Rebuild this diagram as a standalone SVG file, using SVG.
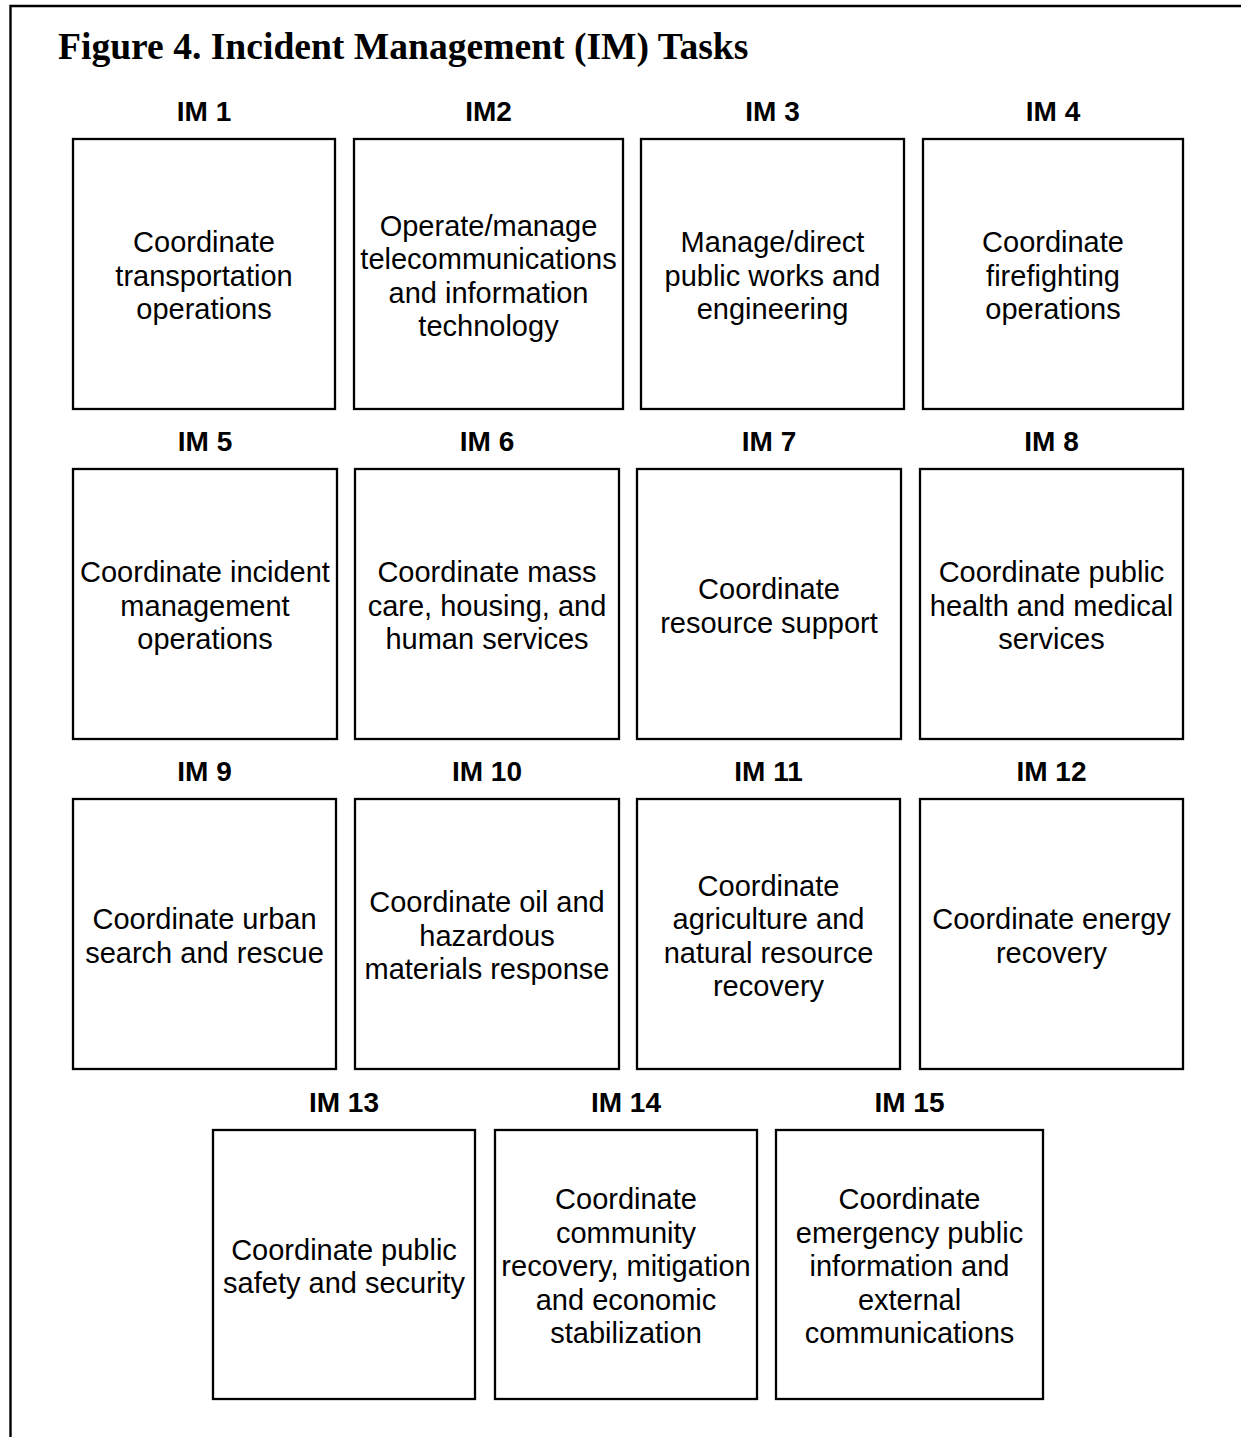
<svg xmlns="http://www.w3.org/2000/svg" width="1241" height="1437" viewBox="0 0 1241 1437">
<style>
.frame{fill:none;stroke:#000;stroke-width:2.4}
.box{fill:#fff;stroke:#000;stroke-width:2.3}
.lbl{font-family:"Liberation Sans",Arial,sans-serif;font-weight:bold;font-size:28px;text-anchor:middle;fill:#000}
.txt{font-family:"Liberation Sans",Arial,sans-serif;font-size:29px;text-anchor:middle;fill:#000}
.title{font-family:"Liberation Serif","Times New Roman",serif;font-weight:bold;font-size:37.6px;fill:#000}
</style>
<rect width="1241" height="1437" fill="#fff"/>
<path class="frame" d="M10.5,1437 V6 H1241"/>
<text class="title" x="58" y="59">Figure 4. Incident Management (IM) Tasks</text>
<g id="connectors"/>
<g id="im1">
<text class="lbl" x="204" y="121">IM 1</text>
<rect class="box" x="73" y="139" width="262" height="270"/>
<text class="txt"><tspan x="204" y="252">Coordinate</tspan><tspan x="204" y="285.5">transportation</tspan><tspan x="204" y="319">operations</tspan></text>
</g>
<g id="im2">
<text class="lbl" x="488.5" y="121">IM2</text>
<rect class="box" x="354" y="139" width="269" height="270"/>
<text class="txt"><tspan x="488.5" y="235.5">Operate/manage</tspan><tspan x="488.5" y="269">telecommunications</tspan><tspan x="488.5" y="302.5">and information</tspan><tspan x="488.5" y="336">technology</tspan></text>
</g>
<g id="im3">
<text class="lbl" x="772.5" y="121">IM 3</text>
<rect class="box" x="641" y="139" width="263" height="270"/>
<text class="txt"><tspan x="772.5" y="252">Manage/direct</tspan><tspan x="772.5" y="285.5">public works and</tspan><tspan x="772.5" y="319">engineering</tspan></text>
</g>
<g id="im4">
<text class="lbl" x="1053" y="121">IM 4</text>
<rect class="box" x="923" y="139" width="260" height="270"/>
<text class="txt"><tspan x="1053" y="252">Coordinate</tspan><tspan x="1053" y="285.5">firefighting</tspan><tspan x="1053" y="319">operations</tspan></text>
</g>
<g id="im5">
<text class="lbl" x="205" y="451">IM 5</text>
<rect class="box" x="73" y="469" width="264" height="270"/>
<text class="txt"><tspan x="205" y="582">Coordinate incident</tspan><tspan x="205" y="615.5">management</tspan><tspan x="205" y="649">operations</tspan></text>
</g>
<g id="im6">
<text class="lbl" x="487" y="451">IM 6</text>
<rect class="box" x="355" y="469" width="264" height="270"/>
<text class="txt"><tspan x="487" y="582">Coordinate mass</tspan><tspan x="487" y="615.5">care, housing, and</tspan><tspan x="487" y="649">human services</tspan></text>
</g>
<g id="im7">
<text class="lbl" x="769" y="451">IM 7</text>
<rect class="box" x="637" y="469" width="264" height="270"/>
<text class="txt"><tspan x="769" y="599">Coordinate</tspan><tspan x="769" y="632.5">resource support</tspan></text>
</g>
<g id="im8">
<text class="lbl" x="1051.5" y="451">IM 8</text>
<rect class="box" x="920" y="469" width="263" height="270"/>
<text class="txt"><tspan x="1051.5" y="582">Coordinate public</tspan><tspan x="1051.5" y="615.5">health and medical</tspan><tspan x="1051.5" y="649">services</tspan></text>
</g>
<g id="im9">
<text class="lbl" x="204.5" y="781">IM 9</text>
<rect class="box" x="73" y="799" width="263" height="270"/>
<text class="txt"><tspan x="204.5" y="929">Coordinate urban</tspan><tspan x="204.5" y="962.5">search and rescue</tspan></text>
</g>
<g id="im10">
<text class="lbl" x="487" y="781">IM 10</text>
<rect class="box" x="355" y="799" width="264" height="270"/>
<text class="txt"><tspan x="487" y="912">Coordinate oil and</tspan><tspan x="487" y="945.5">hazardous</tspan><tspan x="487" y="979">materials response</tspan></text>
</g>
<g id="im11">
<text class="lbl" x="768.5" y="781">IM 11</text>
<rect class="box" x="637" y="799" width="263" height="270"/>
<text class="txt"><tspan x="768.5" y="895.5">Coordinate</tspan><tspan x="768.5" y="929">agriculture and</tspan><tspan x="768.5" y="962.5">natural resource</tspan><tspan x="768.5" y="996">recovery</tspan></text>
</g>
<g id="im12">
<text class="lbl" x="1051.5" y="781">IM 12</text>
<rect class="box" x="920" y="799" width="263" height="270"/>
<text class="txt"><tspan x="1051.5" y="929">Coordinate energy</tspan><tspan x="1051.5" y="962.5">recovery</tspan></text>
</g>
<g id="im13">
<text class="lbl" x="344" y="1112">IM 13</text>
<rect class="box" x="213" y="1130" width="262" height="269"/>
<text class="txt"><tspan x="344" y="1259.5">Coordinate public</tspan><tspan x="344" y="1293">safety and security</tspan></text>
</g>
<g id="im14">
<text class="lbl" x="626" y="1112">IM 14</text>
<rect class="box" x="495" y="1130" width="262" height="269"/>
<text class="txt"><tspan x="626" y="1209">Coordinate</tspan><tspan x="626" y="1242.5">community</tspan><tspan x="626" y="1276">recovery, mitigation</tspan><tspan x="626" y="1309.5">and economic</tspan><tspan x="626" y="1343">stabilization</tspan></text>
</g>
<g id="im15">
<text class="lbl" x="909.5" y="1112">IM 15</text>
<rect class="box" x="776" y="1130" width="267" height="269"/>
<text class="txt"><tspan x="909.5" y="1209">Coordinate</tspan><tspan x="909.5" y="1242.5">emergency public</tspan><tspan x="909.5" y="1276">information and</tspan><tspan x="909.5" y="1309.5">external</tspan><tspan x="909.5" y="1343">communications</tspan></text>
</g>
</svg>
